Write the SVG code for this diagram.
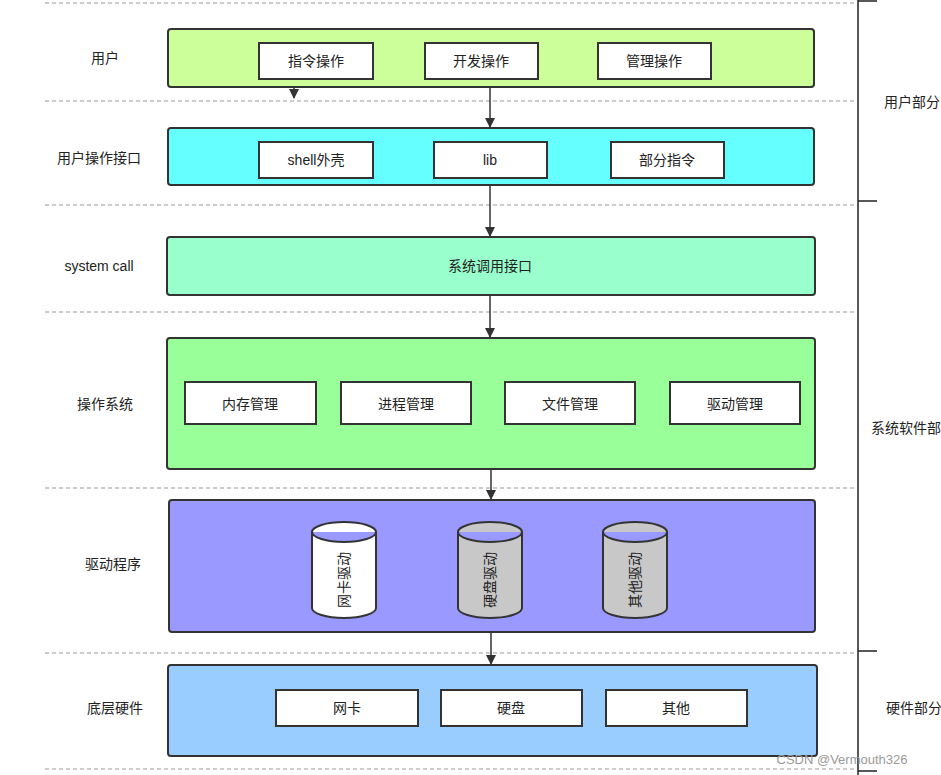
<svg xmlns="http://www.w3.org/2000/svg" width="941" height="775" viewBox="0 0 941 775">
<defs>
<style>
text{font-family:"Liberation Sans","Noto Sans CJK SC",sans-serif;font-size:14px;fill:#222;text-anchor:middle;dominant-baseline:central}
.layer{stroke:#333;stroke-width:2}
.sub{fill:#fff;stroke:#333;stroke-width:2}
.dash{stroke:#999;stroke-width:1;stroke-dasharray:4 3;fill:none}
.conn{stroke:#333;stroke-width:1.5;fill:none}
.cyl{stroke:#333;stroke-width:2}
</style>
<marker id="ah" viewBox="0 0 10 10" refX="9" refY="5" markerWidth="13" markerHeight="10" markerUnits="userSpaceOnUse" orient="auto"><path d="M0,0 L10,5 L0,10 z" fill="#333"/></marker>
</defs>
<rect width="941" height="775" fill="#fff"/>
<g id="guides">
<path class="dash" d="M45,3H855M45,101H855M45,205H855M45,312H855M45,488H855M45,653H855M45,769H855"/>
<path d="M858,0V775M858,1H877M858,201H877M858,651H877M858,771H877" stroke="#222" stroke-width="1.5" fill="none"/>
<text x="912" y="102">用户部分</text>
<text x="906" y="428">系统软件部</text>
<text x="914" y="708">硬件部分</text>
<text x="105" y="58">用户</text>
<text x="99" y="158">用户操作接口</text>
<text x="99" y="266">system call</text>
<text x="105" y="404">操作系统</text>
<text x="113" y="564">驱动程序</text>
<text x="115" y="708">底层硬件</text>
</g>
<g id="user">
<rect class="layer" x="168" y="29" width="646" height="58" rx="3" fill="#ccff99"/>
<rect class="sub" x="259" y="43" width="114" height="36"/><text x="316" y="61">指令操作</text>
<rect class="sub" x="425" y="43" width="113" height="36"/><text x="481" y="61">开发操作</text>
<rect class="sub" x="598" y="43" width="113" height="36"/><text x="654" y="61">管理操作</text>
</g>
<g id="ui">
<rect class="layer" x="168" y="128" width="646" height="57" rx="3" fill="#66ffff"/>
<rect class="sub" x="259" y="142" width="114" height="36"/><text x="316" y="160">shell外壳</text>
<rect class="sub" x="434" y="142" width="113" height="36"/><text x="490" y="160">lib</text>
<rect class="sub" x="611" y="142" width="113" height="36"/><text x="667" y="160">部分指令</text>
</g>
<g id="syscall">
<rect class="layer" x="167" y="237" width="648" height="58" rx="3" fill="#99ffcc"/>
<text x="490" y="266">系统调用接口</text>
</g>
<g id="os">
<rect class="layer" x="167" y="338" width="648" height="131" rx="3" fill="#99ff99"/>
<rect class="sub" x="185" y="382" width="131" height="42"/><text x="250" y="404">内存管理</text>
<rect class="sub" x="341" y="382" width="130" height="42"/><text x="406" y="404">进程管理</text>
<rect class="sub" x="505" y="382" width="130" height="42"/><text x="570" y="404">文件管理</text>
<rect class="sub" x="670" y="382" width="130" height="42"/><text x="735" y="404">驱动管理</text>
</g>
<g id="driver">
<rect class="layer" x="169" y="500" width="646" height="132" rx="3" fill="#9999ff"/>
<path class="cyl" fill="#fff" d="M312,532 A32,10 0 0 1 376,532 V608 A32,10 0 0 1 312,608 Z M312,532 A32,10 0 0 0 376,532"/>
<text transform="translate(344,580) rotate(-90)">网卡驱动</text>
<path class="cyl" fill="#c8c8c8" d="M458,532 A32,10 0 0 1 522,532 V608 A32,10 0 0 1 458,608 Z M458,532 A32,10 0 0 0 522,532"/>
<text transform="translate(490,580) rotate(-90)">硬盘驱动</text>
<path class="cyl" fill="#c8c8c8" d="M603,532 A32,10 0 0 1 667,532 V608 A32,10 0 0 1 603,608 Z M603,532 A32,10 0 0 0 667,532"/>
<text transform="translate(635,580) rotate(-90)">其他驱动</text>
</g>
<g id="hardware">
<rect class="layer" x="168" y="665" width="649" height="91" rx="3" fill="#99ccff"/>
<rect class="sub" x="276" y="690" width="142" height="36"/><text x="347" y="708">网卡</text>
<rect class="sub" x="441" y="690" width="141" height="36"/><text x="511" y="708">硬盘</text>
<rect class="sub" x="606" y="690" width="141" height="36"/><text x="676" y="708">其他</text>
</g>
<g id="connectors">
<path class="conn" d="M294,88V98" marker-end="url(#ah)"/>
<path class="conn" d="M490,88V127" marker-end="url(#ah)"/>
<path class="conn" d="M490,186V236" marker-end="url(#ah)"/>
<path class="conn" d="M490,296V337" marker-end="url(#ah)"/>
<path class="conn" d="M491,470V499" marker-end="url(#ah)"/>
<path class="conn" d="M491,633V664" marker-end="url(#ah)"/>
</g>
<text x="842" y="759" style="font-size:13px;fill:#999">CSDN @Vermouth326</text>
</svg>
